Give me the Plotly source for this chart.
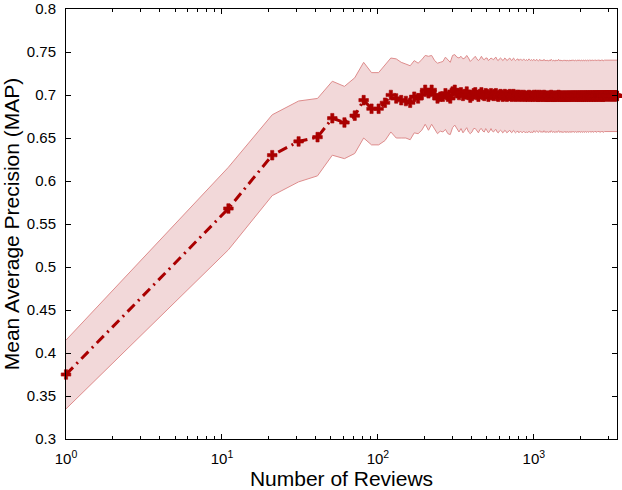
import plotly.graph_objects as go

# number of reviews: 1:10:3411
reviews = list(range(1, 3412, 10))

mean_early = [0.375, 0.568, 0.630, 0.646, 0.651, 0.673, 0.668, 0.676, 0.694, 0.684,
              0.684, 0.691, 0.700, 0.696, 0.694, 0.693, 0.691, 0.698, 0.696, 0.700,
              0.706, 0.702, 0.706, 0.700, 0.696, 0.698, 0.698, 0.702, 0.698, 0.696,
              0.704, 0.706, 0.702, 0.700]
mean_mid = [0.703, 0.699, 0.701, 0.704, 0.700, 0.697, 0.699, 0.702, 0.703, 0.700,
            0.698, 0.701, 0.703, 0.700, 0.699, 0.702, 0.701, 0.698, 0.700, 0.702,
            0.700, 0.699, 0.701, 0.702, 0.699, 0.698, 0.700, 0.701, 0.700, 0.698,
            0.699, 0.701, 0.700, 0.698, 0.699, 0.700, 0.701, 0.699, 0.698, 0.700,
            0.701, 0.699, 0.698, 0.699, 0.700, 0.700, 0.698, 0.699, 0.700, 0.699,
            0.698, 0.699, 0.700, 0.699, 0.698, 0.699, 0.699, 0.698, 0.699, 0.700,
            0.699, 0.698, 0.699, 0.699, 0.698, 0.699]
mean_late = [0.700, 0.699, 0.698, 0.699, 0.700, 0.699, 0.698, 0.698, 0.699, 0.700,
             0.699, 0.698, 0.699, 0.699, 0.698, 0.699, 0.700, 0.699, 0.698, 0.699,
             0.698, 0.699, 0.699, 0.698, 0.698, 0.699, 0.699, 0.698, 0.699, 0.700,
             0.699, 0.698, 0.698, 0.699, 0.699, 0.698, 0.699, 0.699, 0.698, 0.699,
             0.699, 0.698, 0.699, 0.699, 0.700, 0.699, 0.698, 0.699, 0.699, 0.698,
             0.699, 0.699, 0.698, 0.699, 0.699, 0.698, 0.699, 0.699, 0.699, 0.698,
             0.699, 0.699, 0.698, 0.699, 0.699, 0.699, 0.698, 0.699, 0.699, 0.699,
             0.698, 0.699, 0.699, 0.699, 0.699, 0.698, 0.699, 0.699, 0.699, 0.699,
             0.699, 0.698, 0.699, 0.699, 0.699, 0.699, 0.699, 0.698, 0.699, 0.699,
             0.699, 0.699, 0.698, 0.699, 0.699, 0.699, 0.699, 0.699, 0.698, 0.699,
             0.699, 0.699, 0.699, 0.699, 0.698, 0.699, 0.699, 0.699, 0.699, 0.699,
             0.698, 0.699, 0.699, 0.699, 0.699, 0.699, 0.699, 0.698, 0.699, 0.699,
             0.699, 0.699, 0.699, 0.699, 0.698, 0.699, 0.699, 0.699, 0.699, 0.699,
             0.699, 0.699, 0.698, 0.699, 0.699, 0.699, 0.699, 0.699, 0.699, 0.699,
             0.699, 0.698, 0.699, 0.699, 0.699, 0.699, 0.699, 0.699, 0.699, 0.699,
             0.699, 0.699, 0.698, 0.699, 0.699, 0.699, 0.699, 0.699, 0.699, 0.699,
             0.699, 0.699, 0.699, 0.699, 0.699, 0.698, 0.699, 0.699, 0.699, 0.699,
             0.699, 0.699, 0.699, 0.699, 0.699, 0.699, 0.699, 0.699, 0.698, 0.699,
             0.699, 0.699, 0.699, 0.699, 0.699, 0.699, 0.699, 0.699, 0.699, 0.699,
             0.699, 0.699, 0.699, 0.699, 0.699, 0.699, 0.699, 0.699, 0.699, 0.699,
             0.699, 0.699, 0.699, 0.699, 0.699, 0.699, 0.699, 0.699, 0.699, 0.699,
             0.699, 0.699, 0.699, 0.699, 0.699, 0.699, 0.699, 0.699, 0.699, 0.699,
             0.699, 0.699, 0.699, 0.699, 0.699, 0.699, 0.699, 0.699, 0.699, 0.699,
             0.699, 0.699, 0.699, 0.699, 0.699, 0.699, 0.699, 0.699, 0.699, 0.699,
             0.699, 0.699]

# half width of the shaded band
spread_early = [0.040, 0.048, 0.047, 0.047, 0.045, 0.043, 0.042, 0.044, 0.044, 0.042,
                0.042, 0.044, 0.043, 0.046, 0.044, 0.043, 0.043, 0.042, 0.041, 0.041,
                0.040, 0.043, 0.040, 0.040, 0.041, 0.040, 0.041, 0.042, 0.043, 0.042,
                0.042, 0.041, 0.042, 0.043]
spread_mid = [0.042, 0.043, 0.042, 0.042, 0.043, 0.042, 0.042, 0.041, 0.042, 0.042,
              0.042, 0.041, 0.042, 0.042, 0.042, 0.041, 0.042, 0.042, 0.042, 0.041,
              0.042, 0.042, 0.042, 0.042, 0.042, 0.042, 0.042, 0.042, 0.042, 0.042,
              0.042, 0.042, 0.042, 0.042, 0.042, 0.042, 0.042, 0.042, 0.042, 0.042,
              0.042, 0.042, 0.042, 0.042, 0.042, 0.042, 0.042, 0.042, 0.042, 0.042,
              0.042, 0.042, 0.042, 0.042, 0.042, 0.042, 0.042, 0.042, 0.042, 0.042,
              0.042, 0.042, 0.042, 0.042, 0.042, 0.042]
spread_late = [0.0415] * 242

mean = mean_early + mean_mid + mean_late
spread = spread_early + spread_mid + spread_late
upper = [m + s for m, s in zip(mean, spread)]
lower = [m - s for m, s in zip(mean, spread)]

x_tick_vals = [1, 10, 100, 1000]
x_tick_text = ["10<sup>0</sup>", "10<sup>1</sup>", "10<sup>2</sup>", "10<sup>3</sup>"]
y_tick_vals = [0.3, 0.35, 0.4, 0.45, 0.5, 0.55, 0.6, 0.65, 0.7, 0.75, 0.8]
y_tick_text = ["0.3", "0.35", "0.4", "0.45", "0.5", "0.55", "0.6", "0.65", "0.7", "0.75", "0.8"]

red = "#aa0000"
edge = "rgb(222,140,140)"
band = "rgb(242,216,217)"

fig = go.Figure()
fig.add_trace(go.Scatter(x=reviews, y=lower, mode="lines",
                         line=dict(color=edge, width=1), showlegend=False,
                         hoverinfo="skip"))
fig.add_trace(go.Scatter(x=reviews, y=upper, mode="lines", fill="tonexty",
                         fillcolor=band, line=dict(color=edge, width=1),
                         showlegend=False, hoverinfo="skip"))
fig.add_trace(go.Scatter(x=reviews, y=mean, mode="lines+markers", cliponaxis=False,
                         line=dict(color=red, width=3, dash="10px,5px,2px,5px"),
                         marker=dict(symbol="cross", size=8, color=red,
                                     line=dict(color=red, width=0.6)),
                         showlegend=False))

tick_font = dict(family="Liberation Sans, Arial", size=15, color="black")
title_font = dict(family="Liberation Sans, Arial", size=21, color="black")

fig.update_xaxes(type="log", range=[0, 3.5329],
                 tickvals=x_tick_vals, ticktext=x_tick_text,
                 ticks="inside", ticklen=5, tickcolor="black",
                 showline=True, linecolor="black", linewidth=1, mirror="ticks",
                 showgrid=False, zeroline=False, tickfont=tick_font,
                 ticklabelstandoff=6, ticklabeloverflow="allow",
                 minor=dict(ticks="inside", ticklen=3, dtick="D1", tickcolor="black",
                            showgrid=False),
                 title_text="Number of Reviews", title_font=title_font,
                 title_standoff=3)
fig.update_yaxes(range=[0.3, 0.8],
                 tickvals=y_tick_vals, ticktext=y_tick_text,
                 ticks="inside", ticklen=5, tickcolor="black",
                 showline=True, linecolor="black", linewidth=1, mirror="ticks",
                 showgrid=False, zeroline=False, tickfont=tick_font,
                 ticklabelstandoff=6, ticklabeloverflow="allow",
                 title_text="Mean Average Precision (MAP)", title_font=title_font,
                 title_standoff=6)

fig.update_layout(width=622, height=490,
                  margin=dict(l=66, r=5, t=9, b=51, autoexpand=False),
                  plot_bgcolor="white", paper_bgcolor="white")

fig.write_html("out.html", config={"displayModeBar": False},
               post_script="document.body.style.margin='0';")
